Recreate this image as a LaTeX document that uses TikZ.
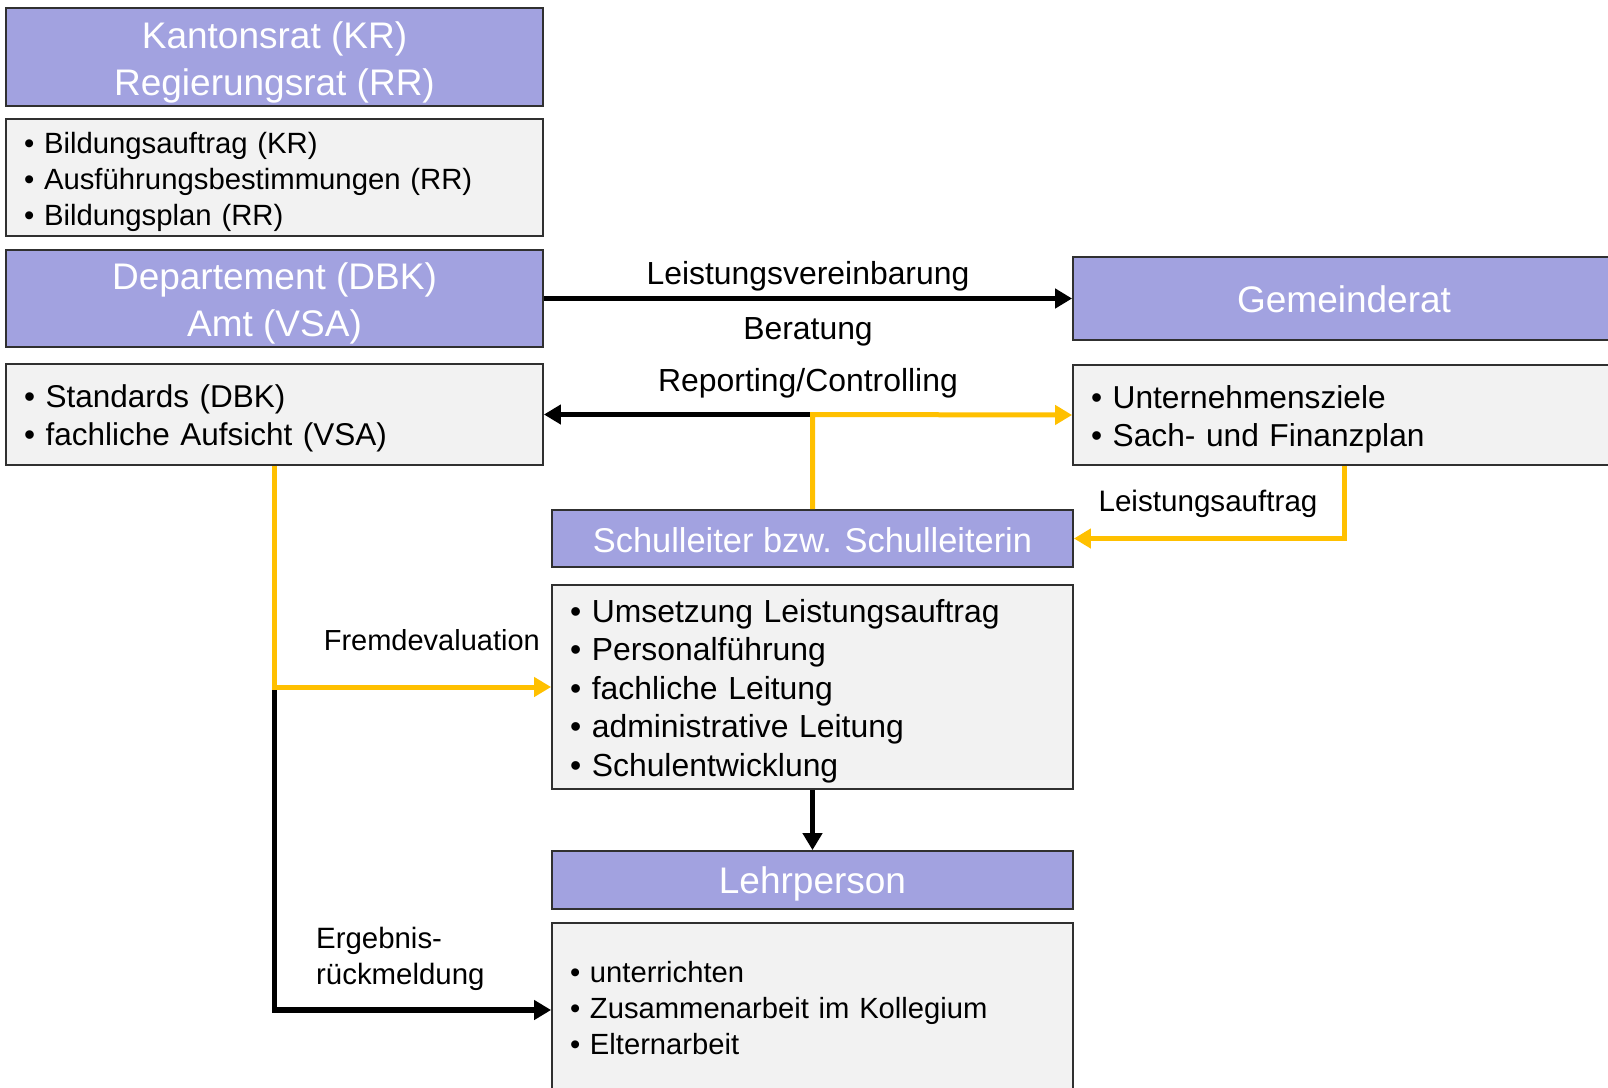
\documentclass[tikz,border=0pt]{standalone}
\usepackage{fontspec}
\setmainfont{Liberation Sans}
\usetikzlibrary{arrows.meta}
\definecolor{hdr}{HTML}{A2A2E0}
\definecolor{bodyfill}{HTML}{F2F2F2}
\definecolor{ylw}{HTML}{FFC000}
\definecolor{edge}{HTML}{303030}
\newcommand{\topstrut}[1]{\rule{0pt}{#1}}
\newcommand{\botstrut}[1]{\rule[-#1]{0pt}{#1}}
\begin{document}
\begin{tikzpicture}[x=1pt,y=-1pt,
  hdrbox/.style={draw=edge, line width=1.8pt, fill=hdr, text=white, align=center,
    inner sep=0pt, font=\fontsize{37}{47}\selectfont},
  listbox/.style={draw=edge, line width=1.8pt, fill=bodyfill, align=left,
    inner xsep=18pt, inner ysep=0pt},
  blk/.style={line width=5.5pt, draw=black, -{Triangle[length=17pt,width=19pt]}},
  yel/.style={line width=5pt, draw=ylw, -{Triangle[length=17pt,width=19pt]}},
  lbl/.style={inner sep=0pt}
]
\useasboundingbox (0,0) rectangle (1608,1087);
\clip (0,0) rectangle (1608,1087);
\fill[white] (0,0) rectangle (1608,1087);

% left column
\node[hdrbox, minimum width=537pt, minimum height=98pt] (kr) at (274.5,57)
  {\topstrut{37pt}Kantonsrat (KR)\\Regierungsrat (RR)};
\node[listbox, text width=501pt, minimum height=117pt,
  font=\fontsize{29.3}{36}\selectfont] (bild) at (274.5,177.5)
  {\topstrut{29.5pt}• Bildungsauftrag (KR)\\• Ausführungsbestimmungen (RR)\\• Bildungsplan (RR)};
\node[hdrbox, minimum width=537pt, minimum height=97pt] (dbk) at (274.5,298.5)
  {\topstrut{36pt}Departement (DBK)\\Amt (VSA)};
\node[listbox, text width=501pt, minimum height=101pt,
  font=\fontsize{31.5}{38}\selectfont] (std) at (274.5,414.5)
  {\topstrut{31.3pt}• Standards (DBK)\\• fachliche Aufsicht (VSA)};

% right column
\node[hdrbox, minimum width=542pt, minimum height=83pt] (gr) at (1344,298.5)
  {\topstrut{28.5pt}Gemeinderat};
\node[listbox, text width=506pt, minimum height=100pt,
  font=\fontsize{31.7}{38}\selectfont] (uz) at (1344,415)
  {\topstrut{31pt}• Unternehmensziele\\• Sach- und Finanzplan};

% middle column
\node[hdrbox, minimum width=521pt, minimum height=57pt,
  font=\fontsize{34.4}{40}\selectfont] (sl) at (812.5,538.5)
  {\topstrut{29pt}Schulleiter bzw. Schulleiterin};
\node[listbox, text width=485pt, minimum height=204pt,
  font=\fontsize{31.9}{38.5}\selectfont] (ums) at (812.5,687)
  {\topstrut{31.5pt}• Umsetzung Leistungsauftrag\\• Personalführung\\• fachliche Leitung\\• administrative Leitung\\• Schulentwicklung};
\node[hdrbox, minimum width=521pt, minimum height=58pt] (lp) at (812.5,880)
  {\topstrut{35pt}Lehrperson};
\node[listbox, text width=485pt, minimum height=174pt,
  font=\fontsize{29.2}{36}\selectfont] (unt) at (812.5,1010)
  {• unterrichten\\• Zusammenarbeit im Kollegium\\• Elternarbeit\botstrut{4pt}};

% connectors
\draw[blk] (dbk.east) -- (gr.west);
\coordinate (junc) at (sl.north |- std.east);
\draw[blk] (junc) -- (std.east);
\draw[yel] (sl.north) -- (junc) -- (uz.west);
\draw[yel] (uz.south) |- (sl.east);
\coordinate (corner) at (std.south |- ums.west);
\draw[blk] (corner) |- (unt.west);
\draw[yel] (std.south) |- (ums.west);
\draw[blk] (ums.south) -- (lp.north);

% labels
\node[lbl, font=\fontsize{31.9}{38}\selectfont] (l1) at (808,276.5) {Leistungsvereinbarung};
\node[lbl, font=\fontsize{31.9}{38}\selectfont] (l2) at (808,332) {Beratung};
\node[lbl, font=\fontsize{31.9}{38}\selectfont] (l3) at (808,383) {Reporting/Controlling};
\node[lbl, font=\fontsize{29.6}{35}\selectfont] (l4) at (1208,504) {Leistungsauftrag};
\node[lbl, anchor=east, font=\fontsize{29}{35}\selectfont] (l5) at (540,640) {Fremdevaluation};
\node[lbl, anchor=west, align=left, font=\fontsize{29.4}{36}\selectfont] (l6) at (316,958.5)
  {Ergebnis-\\rückmeldung};
\end{tikzpicture}
\end{document}
